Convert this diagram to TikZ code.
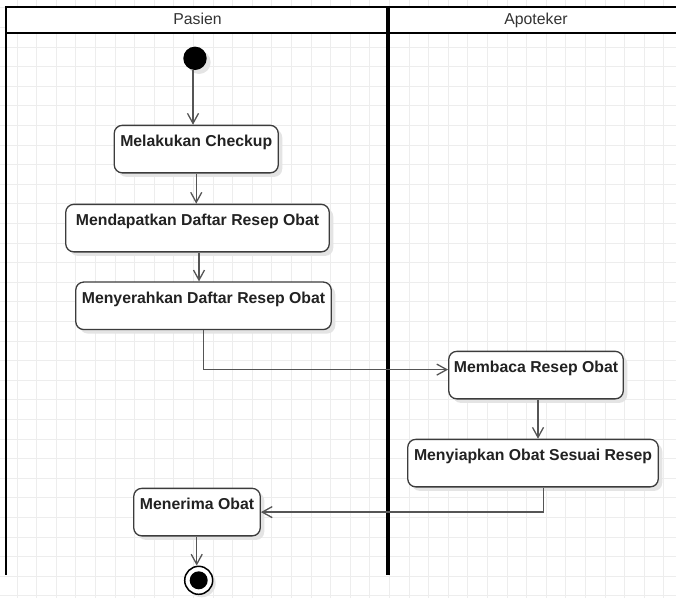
\documentclass[tikz,border=0pt]{standalone}
\usepackage{fontspec}
\setmainfont{Liberation Sans}
\usetikzlibrary{arrows.meta,shadows}
\definecolor{gridc}{HTML}{EDEDED}
\definecolor{edgec}{HTML}{555555}
\definecolor{boxc}{HTML}{3C3C3C}
\definecolor{txtc}{HTML}{222222}
\definecolor{hdrc}{HTML}{333333}
\definecolor{shadowc}{HTML}{E4E4E4}
\begin{document}
\begin{tikzpicture}[x=1pt,y=-1pt,
  gridline/.style={draw=gridc, line width=0.8pt},
  lane/.style={draw=black, line width=2.2pt},
  hdr/.style={font=\fontsize{15.8}{19}\selectfont, text=hdrc, anchor=base, inner sep=0pt},
  act/.style={draw=boxc, line width=1.3pt, rounded corners=8pt, fill=white,
    drop shadow={shadow xshift=4pt, shadow yshift=-4pt, fill=shadowc, opacity=1},
    inner xsep=0pt, inner ysep=0pt, text height=21pt, text depth=26.5pt,
    font=\bfseries\fontsize{15.8}{19}\selectfont, text=txtc, anchor=north, align=center},
  edge/.style={draw=edgec, line width=1.3pt, -{Straight Barb[length=10pt, width=11pt, line width=1.3pt]}}
]
\useasboundingbox (0,0) rectangle (676,598);
\clip (0,0) rectangle (676,598);
% grid
\foreach \i in {0,...,34} \draw[gridline] ({-2.6+19.6*\i},0) -- ({-2.6+19.6*\i},598);
\foreach \j in {0,...,30} \draw[gridline] (0,{7.8+19.6*\j}) -- (676,{7.8+19.6*\j});
% swimlanes
\fill[white] (6,7) rectangle (690,33);
\draw[lane] (690,7) -- (6,7) -- (6,575);
\draw[lane] (6,33) -- (690,33);
\draw[draw=black, line width=4pt] (388,7) -- (388,575);
\node[hdr] (hp) at (197.5,24.7) {Pasien};
\node[hdr] (ha) at (536,24.7) {Apoteker};
% nodes
\node[circle, fill=black, minimum size=23.4pt, inner sep=0pt,
  drop shadow={shadow xshift=4pt, shadow yshift=-4pt, fill=shadowc, opacity=1}] (start) at (195,58.3) {};
\node[act, minimum width=164pt] (chk) at (196.25,124.7) {Melakukan Checkup};
\node[act, minimum width=263.5pt] (md) at (197.5,203.7) {Mendapatkan Daftar Resep Obat};
\node[act, minimum width=255.5pt] (ms) at (203.5,281.4) {Menyerahkan Daftar Resep Obat};
\node[act, minimum width=174.5pt] (mb) at (536,350.7) {Membaca Resep Obat};
\node[act, minimum width=250.5pt] (sp) at (533,438.7) {Menyiapkan Obat Sesuai Resep};
\node[act, minimum width=126.5pt] (mr) at (197,487.7) {Menerima Obat};
\node[circle, draw=black, line width=1.5pt, fill=white, minimum size=28pt, inner sep=0pt,
  drop shadow={shadow xshift=3pt, shadow yshift=-3pt, fill=shadowc, opacity=1}] (fin) at (198.7,580.3) {};
\node[circle, fill=black, minimum size=18pt, inner sep=0pt] (finin) at (fin.center) {};
% edges
\draw[edge] ([xshift=-2pt]start.south) -- ([xshift=-2pt]start.south |- chk.north);
\draw[edge] (chk.south) -- (chk.south |- md.north);
\draw[edge] ([xshift=1.5pt]md.south) -- ([xshift=1.5pt]md.south |- ms.north);
\draw[edge] (ms.south) |- ([yshift=5.5pt]mb.west);
\draw[edge] ([xshift=2pt]mb.south) -- ([xshift=2pt]mb.south |- sp.north);
\draw[edge] ([xshift=10.5pt]sp.south) |- (mr.east);
\draw[edge] ([xshift=-0.3pt]mr.south) -- ([xshift=-0.3pt]mr.south |- fin.north);
\end{tikzpicture}
\end{document}
